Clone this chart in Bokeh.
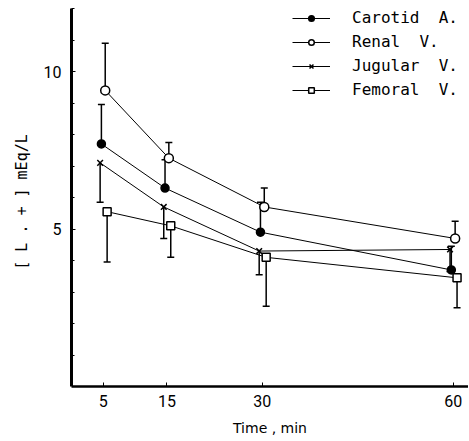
from bokeh.plotting import figure
from bokeh.models import (ColumnDataSource, Whisker, TeeHead, Legend, LegendItem,
                          FixedTicker, Range1d)
from bokeh.transform import dodge
from bokeh.embed import file_html
from bokeh.resources import INLINE

# ---- data ----
times = [5, 15, 30, 60]
x_ticks = [5, 15, 30, 60]
y_ticks = [5, 10]
y_minor_ticks = [1, 2, 3, 4, 6, 7, 8, 9, 11, 12]

carotid = [7.7, 6.3, 4.9, 3.7]
carotid_hi = [8.95, 7.2, 5.85, 4.45]

renal = [9.4, 7.25, 5.7, 4.7]
renal_hi = [10.9, 7.75, 6.3, 5.25]

jugular = [7.1, 5.7, 4.3, 4.35]
jugular_lo = [5.85, 4.7, 3.55, 3.65]

femoral = [5.55, 5.1, 4.1, 3.45]
femoral_lo = [3.95, 4.1, 2.55, 2.5]

labels = ["Carotid  A.", "Renal  V.", "Jugular  V.", "Femoral  V."]

# ---- figure ----
p = figure(width=468, height=440, output_backend="svg", toolbar_location=None,
           x_range=Range1d(0, 62.4), y_range=Range1d(0, 12),
           min_border_left=71, min_border_right=0, min_border_top=8, min_border_bottom=54)
p.outline_line_color = None
p.xgrid.visible = False
p.ygrid.visible = False
p.background_fill_color = "white"

tick_font = "Roboto"

p.xaxis.ticker = FixedTicker(ticks=x_ticks)
p.xaxis.axis_line_width = 2.5
p.xaxis.axis_line_color = "black"
p.xaxis.major_tick_in = 4
p.xaxis.major_tick_out = 0
p.xaxis.major_tick_line_color = "black"
p.xaxis.minor_tick_line_color = None
p.xaxis.major_label_text_font = tick_font
p.xaxis.major_label_text_color = "black"
p.xaxis.major_label_text_font_size = "16px"
p.xaxis.major_label_standoff = 8
p.xaxis.axis_label = "Time , min"
p.xaxis.axis_label_text_font = "DejaVu Sans"
p.xaxis.axis_label_text_color = "black"
p.xaxis.axis_label_text_font_style = "normal"
p.xaxis.axis_label_text_font_size = "14px"
p.xaxis.axis_label_standoff = 10

p.yaxis.ticker = FixedTicker(ticks=y_ticks, minor_ticks=y_minor_ticks)
p.yaxis.axis_line_width = 3
p.yaxis.axis_line_color = "black"
p.yaxis.major_tick_in = 4
p.yaxis.major_tick_out = 0
p.yaxis.major_tick_line_color = "black"
p.yaxis.minor_tick_in = 3
p.yaxis.minor_tick_out = 0
p.yaxis.minor_tick_line_color = "black"
p.yaxis.major_label_text_font = tick_font
p.yaxis.major_label_text_color = "black"
p.yaxis.major_label_text_font_size = "16px"
p.yaxis.major_label_standoff = 10
p.yaxis.axis_label = "[ L . + ]  mEq/L"
p.yaxis.axis_label_text_font = "DejaVu Sans Mono"
p.yaxis.axis_label_text_color = "black"
p.yaxis.axis_label_text_font_style = "normal"
p.yaxis.axis_label_text_font_size = "15px"
p.yaxis.axis_label_standoff = 10

series = [
    (carotid, carotid_hi, "up", -0.3, dict(marker="circle", size=8, fill_color="black")),
    (renal, renal_hi, "up", 0.3, dict(marker="circle", size=9, fill_color="white")),
    (jugular, jugular_lo, "down", -0.5, dict(marker="x", size=8, fill_color=None)),
    (femoral, femoral_lo, "down", 0.6, dict(marker="square", size=8, fill_color="white")),
]

items = []
for (vals, err, direction, off, mk), lab in zip(series, labels):
    if direction == "up":
        lo, hi = vals, err
    else:
        lo, hi = err, vals
    src = ColumnDataSource(dict(x=times, y=vals, lo=lo, hi=hi))
    xs = dodge("x", off)
    ln = p.line(x=xs, y="y", source=src, line_color="black", line_width=1)
    w = Whisker(base=xs, lower="lo", upper="hi", source=src, dimension="height",
                line_color="black", line_width=1.5, level="underlay")
    head = TeeHead(size=7, line_color="black", line_width=1.5)
    if direction == "up":
        w.upper_head = head
        w.lower_head = None
    else:
        w.lower_head = head
        w.upper_head = None
    p.add_layout(w)
    sc = p.scatter(x=xs, y="y", source=src, line_color="black", line_width=1.5, **mk)
    items.append(LegendItem(label=lab, renderers=[ln, sc]))

legend = Legend(items=items, location=(221, 287), glyph_width=38, glyph_height=14,
                label_height=14, spacing=5, padding=0, margin=0, label_standoff=22,
                border_line_color=None, background_fill_alpha=0,
                label_text_font="DejaVu Sans Mono", label_text_font_size="16px",
                label_text_color="black")
p.add_layout(legend)

open("out.html", "w").write(file_html(p, INLINE))
